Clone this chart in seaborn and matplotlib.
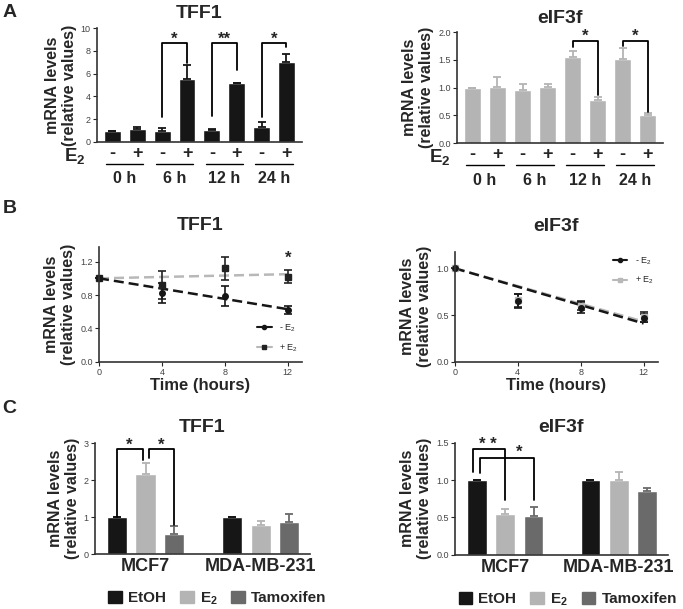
import numpy as np
import pandas as pd
import matplotlib
matplotlib.use("Agg")
import matplotlib.pyplot as plt
from matplotlib.lines import Line2D
from matplotlib.patches import Patch
import seaborn as sns

# ---- panel A: E2 time course (bars: -,+ per time point) ----
a_times = ["0 h", "6 h", "12 h", "24 h"]
a_signs = ["-", "+"]
a_tff1 = [1.0, 1.15, 1.0, 5.5, 1.02, 5.15, 1.32, 7.0]
a_tff1_err = [0.0, 0.12, 0.2, 1.25, 0.08, 0.05, 0.45, 0.75]
a_eif = [1.0, 1.02, 0.95, 1.02, 1.56, 0.78, 1.51, 0.51]
a_eif_err = [0.0, 0.18, 0.12, 0.05, 0.1, 0.05, 0.2, 0.03]

# ---- panel B: mRNA decay after actinomycin ----
b_hours = [0, 4, 8, 12]
b_tff1_minus = [1.0, 0.82, 0.79, 0.62]
b_tff1_minus_err = [0.0, 0.12, 0.12, 0.05]
b_tff1_plus = [1.0, 0.92, 1.12, 1.02]
b_tff1_plus_err = [0.0, 0.17, 0.14, 0.08]
b_eif_minus = [1.0, 0.65, 0.58, 0.47]
b_eif_minus_err = [0.0, 0.08, 0.06, 0.04]
b_eif_plus = [1.0, 0.66, 0.60, 0.48]
b_eif_plus_err = [0.0, 0.07, 0.05, 0.05]
# fitted lines, start/end values
b_fit_hours = [0, 12]
b_tff1_fit_minus = [1.0, 0.63]
b_tff1_fit_plus = [1.0, 1.05]
b_eif_fit_minus = [1.0, 0.41]
b_eif_fit_plus = [1.0, 0.43]

# ---- panel C: cell lines x treatment ----
c_cells = ["MCF7", "MDA-MB-231"]
c_treats = ["EtOH", "E2", "Tamoxifen"]
c_tff1 = [1.0, 2.18, 0.55, 1.0, 0.79, 0.86]
c_tff1_err = [0.0, 0.3, 0.2, 0.0, 0.1, 0.22]
c_eif = [1.0, 0.55, 0.52, 1.0, 1.0, 0.85]
c_eif_err = [0.0, 0.06, 0.12, 0.0, 0.11, 0.04]

BLACK = "#161616"
LIGHT = "#b4b4b4"
MID = "#6a6a6a"
c_colors = {"EtOH": BLACK, "E2": LIGHT, "Tamoxifen": MID}

sns.set_theme(style="ticks")
plt.rcParams["font.family"] = ["Liberation Sans", "DejaVu Sans"]
plt.rcParams["mathtext.fontset"] = "custom"
plt.rcParams["mathtext.rm"] = "Liberation Sans"
plt.rcParams["mathtext.bf"] = "Liberation Sans:bold"

YLABEL = "mRNA levels\n(relative values)"
E2_BOLD = r"E$_\mathbf{2}$"


def style_axes(ax):
    sns.despine(ax=ax)
    for s in ["left", "bottom"]:
        ax.spines[s].set_linewidth(1.2)
        ax.spines[s].set_color("#333333")
    ax.tick_params(axis="y", length=3, width=0.8, labelsize=6.5, labelcolor="#444444", pad=1.5)
    ax.set_ylabel(YLABEL, fontsize=11.5, fontweight="bold", linespacing=1.15, labelpad=3)


def bracket(ax, x1, x2, ytop, y1, y2):
    ax.plot([x1, x1, x2, x2], [y1, ytop, ytop, y2], color="black", lw=1.3, clip_on=False)


def star(ax, x, y, s="*"):
    ax.text(x, y, s, ha="center", va="center", fontsize=12, fontweight="bold")


def bar_errors(ax, err, colors):
    bars = sorted(ax.patches, key=lambda p: p.get_x())
    for p, e, c in zip(bars, err, colors):
        ax.errorbar(p.get_x() + p.get_width() / 2, p.get_height(), yerr=[[0], [e]],
                    fmt="none", ecolor=c, elinewidth=1.3, capsize=3, capthick=1.3)


def panel_a(ax, vals, errs, color, ylim, yticks, ytfmt, title, e2x):
    labels = [f"{t} {s}" for t in a_times for s in a_signs]
    sns.barplot(x=labels, y=vals, color=color, saturation=1, width=0.68, ax=ax)
    bar_errors(ax, errs, [color] * 8)
    style_axes(ax)
    ax.set_ylim(*ylim)
    ax.set_yticks(yticks)
    ax.set_yticklabels([ytfmt.format(v) for v in yticks])
    ax.set_xlim(-0.62, 7.62)
    ax.set_xticks(range(8))
    ax.set_xticklabels(a_signs * 4, fontsize=13, fontweight="bold")
    ax.tick_params(axis="x", length=0, pad=2)
    ax.set_title(title, fontsize=14, fontweight="bold", pad=7)
    h = ax.bbox.height
    tr = ax.get_xaxis_transform()
    for i, t in enumerate(a_times):
        ax.plot([2 * i - 0.25, 2 * i + 1.25], [-22 / h, -22 / h], color="black", lw=1.0,
                transform=tr, clip_on=False)
        ax.text(2 * i + 0.5, -37 / h, t, transform=tr, ha="center", va="center",
                fontsize=11.5, fontweight="bold")
    ax.text(e2x, -15 / h, E2_BOLD, transform=tr, ha="center", va="center",
            fontsize=13.5, fontweight="bold")


def panel_b(ax, minus, minus_err, plus, plus_err, fit_m, fit_p, plus_mcolor,
            ylim, yticks, ytfmt, title, legend_loc, legend_anchor, title_pad):
    sns.lineplot(x=b_fit_hours, y=fit_p, color="#b8b8b8", lw=1.8, linestyle=(0, (4, 2)), ax=ax)
    sns.lineplot(x=b_fit_hours, y=fit_m, color=BLACK, lw=1.8, linestyle=(0, (4, 2)), ax=ax)
    ax.errorbar(b_hours, plus, yerr=plus_err, fmt="s", color=plus_mcolor, ms=4,
                ecolor="#222222", elinewidth=1.2, capsize=3, capthick=1.2, clip_on=False)
    ax.errorbar(b_hours, minus, yerr=minus_err, fmt="o", color=BLACK, ms=4,
                ecolor=BLACK, elinewidth=1.2, capsize=3, capthick=1.2, clip_on=False)
    style_axes(ax)
    ax.tick_params(axis="x", length=3, width=0.8, labelsize=6.5, labelcolor="#444444", pad=1.5)
    ax.set_xlim(0, 12.9)
    ax.set_xticks(b_hours)
    ax.set_ylim(*ylim)
    ax.set_yticks(yticks)
    ax.set_yticklabels([ytfmt.format(v) for v in yticks])
    ax.set_xlabel("Time (hours)", fontsize=12, fontweight="bold", labelpad=1)
    handles = [
        Line2D([0], [0], color=BLACK, marker="o", ms=3, lw=1.5, label=r"- E$_\mathregular{2}$"),
        Line2D([0], [0], color="#b8b8b8", marker="s", ms=3, mfc=plus_mcolor, mec=plus_mcolor,
               lw=1.5, label=r"+ E$_\mathregular{2}$"),
    ]
    ax.legend(handles=handles, loc=legend_loc, bbox_to_anchor=legend_anchor, frameon=False,
              fontsize=6.5, handlelength=1.6, handletextpad=0.8, labelspacing=0.9)
    ax.set_title(title, fontsize=14, fontweight="bold", pad=title_pad)


def panel_c(ax, vals, errs, ylim, yticks, ytfmt, title, leg_x):
    df = pd.DataFrame({
        "cell": [c for c in c_cells for _ in c_treats],
        "treat": c_treats * len(c_cells),
        "value": vals,
    })
    sns.barplot(data=df, x="cell", y="value", hue="treat", order=c_cells, hue_order=c_treats,
                palette=c_colors, saturation=1, width=0.75, gap=0.3, errorbar=None,
                legend=False, ax=ax)
    bar_errors(ax, errs, [c_colors[t] for t in c_treats] * 2)
    style_axes(ax)
    ax.set_xlabel("")
    ax.set_ylim(*ylim)
    ax.set_yticks(yticks)
    ax.set_yticklabels([ytfmt.format(v) for v in yticks])
    ax.set_xlim(-0.44, 1.43)
    ax.set_xticks(range(len(c_cells)))
    ax.set_xticklabels(c_cells, fontsize=13, fontweight="bold")
    ax.tick_params(axis="x", length=0, pad=3)
    ax.set_title(title, fontsize=14, fontweight="bold", pad=8)
    handles = [Patch(color=c_colors[t]) for t in c_treats]
    ax.legend(handles, ["EtOH", E2_BOLD, "Tamoxifen"], loc="center",
              bbox_to_anchor=(leg_x, -0.40), ncol=3, frameon=False,
              prop={"weight": "bold", "size": 11}, handlelength=0.9, handleheight=0.9,
              handletextpad=0.4, columnspacing=0.9)


fig = plt.figure(figsize=(6.83, 6.09), dpi=100)

ax = fig.add_axes([0.142, 0.767, 0.300, 0.187])
panel_a(ax, a_tff1, a_tff1_err, BLACK, (0, 10), [0, 2, 4, 6, 8, 10], "{:.0f}", "TFF1", -1.5)
bracket(ax, 2, 3, 8.7, 2.2, 6.9)
bracket(ax, 4, 5, 8.7, 2.3, 6.3)
bracket(ax, 6, 7, 8.7, 2.2, 8.3)
star(ax, 2.5, 9.0)
star(ax, 4.5, 9.0, "**")
star(ax, 6.5, 9.0)

ax = fig.add_axes([0.669, 0.765, 0.302, 0.182])
panel_a(ax, a_eif, a_eif_err, LIGHT, (0, 2), [0, 0.5, 1.0, 1.5, 2.0], "{:.1f}", "eIF3f", -1.3)
bracket(ax, 4, 5, 1.84, 1.73, 0.86)
bracket(ax, 6, 7, 1.84, 1.76, 0.57)
star(ax, 4.5, 1.92)
star(ax, 6.5, 1.92)

ax = fig.add_axes([0.145, 0.406, 0.297, 0.189])
panel_b(ax, b_tff1_minus, b_tff1_minus_err, b_tff1_plus, b_tff1_plus_err,
        b_tff1_fit_minus, b_tff1_fit_plus, "#222222", (0, 1.38), [0, 0.4, 0.8, 1.2],
        "{:.1f}", "TFF1", "lower right", (1.02, 0.0), 12)
star(ax, 12, 1.24)

ax = fig.add_axes([0.666, 0.406, 0.297, 0.181])
panel_b(ax, b_eif_minus, b_eif_minus_err, b_eif_plus, b_eif_plus_err,
        b_eif_fit_minus, b_eif_fit_plus, "#b8b8b8", (0, 1.18), [0, 0.5, 1.0],
        "{:.1f}", "eIF3f", "upper right", (1.02, 1.04), 15)

ax = fig.add_axes([0.139, 0.090, 0.315, 0.182])
panel_c(ax, c_tff1, c_tff1_err, (0, 3), [0, 1, 2, 3], "{:.0f}", "TFF1", 0.57)
bracket(ax, -0.25, -0.02, 2.84, 1.02, 2.55)
bracket(ax, 0.03, 0.25, 2.84, 2.6, 0.8)
star(ax, -0.14, 2.95)
star(ax, 0.14, 2.95)

ax = fig.add_axes([0.666, 0.089, 0.312, 0.184])
panel_c(ax, c_eif, c_eif_err, (0, 1.5), [0, 0.5, 1.0, 1.5], "{:.1f}", "eIF3f", 0.53)
bracket(ax, -0.28, 0.0, 1.41, 1.11, 0.74)
bracket(ax, -0.22, 0.25, 1.30, 1.10, 0.74)
star(ax, -0.155, 1.47, "* *")
star(ax, 0.12, 1.37)

for letter, y in [("A", 0.972), ("B", 0.650), ("C", 0.322)]:
    fig.text(0.004, y, letter, fontsize=14, fontweight="bold", va="baseline")

fig.savefig("out.png", dpi=100)
